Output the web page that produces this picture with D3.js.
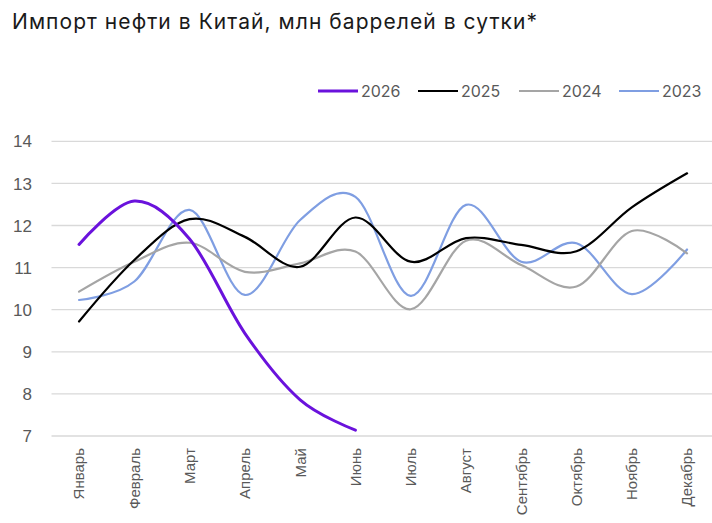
<!DOCTYPE html>
<html>
<head>
<meta charset="utf-8">
<script src="https://cdn.jsdelivr.net/npm/d3@7"></script>
<style>
  body { margin: 0; background: #fff; }
  svg { display: block; }
</style>
</head>
<body>
<div id="chart"></div>
<script>
// months on the x axis
var months = ["Январь", "Февраль", "Март", "Апрель", "Май", "Июнь",
              "Июль", "Август", "Сентябрь", "Октябрь", "Ноябрь", "Декабрь"];
var yTicks = [7, 8, 9, 10, 11, 12, 13, 14];

// values, mln barrels per day
var y2026 = [11.55, 12.58, 11.68, 9.44, 7.86, 7.14];
var y2025 = [9.72, 11.18, 12.15, 11.73, 11.02, 12.19, 11.14, 11.70, 11.54, 11.39, 12.43, 13.24];
var y2024 = [10.43, 11.14, 11.59, 10.90, 11.10, 11.38, 10.01, 11.64, 11.06, 10.55, 11.87, 11.34];
var y2023 = [10.23, 10.67, 12.37, 10.35, 12.13, 12.68, 10.33, 12.49, 11.14, 11.58, 10.37, 11.43];

var seriesNames = ["2026", "2025", "2024", "2023"];
var seriesValues = [y2026, y2025, y2024, y2023];
var seriesColors = ["#6a12dc", "#000000", "#a5a5a5", "#7f9ee2"];
var seriesWidths = [3, 2.2, 2.2, 2.2];

var width = 712, height = 523;

var svg = d3.select("#chart")
    .append("svg")
    .attr("width", width)
    .attr("height", height);

// title
svg.append("text")
    .attr("x", 12)
    .attr("y", 29)
    .attr("textLength", 525)
    .attr("lengthAdjust", "spacing")
    .style("font-family", "Inter, 'Noto Sans', sans-serif")
    .style("font-size", "21px")
    .style("fill", "#1a1a1a")
    .text("Импорт нефти в Китай, млн баррелей в сутки*");

var x = d3.scalePoint()
    .domain(months)
    .range([51.4, 714.7])
    .padding(0.5);

var y = d3.scaleLinear()
    .domain([7, 14])
    .range([436, 141.3]);

// gridlines
svg.append("g")
    .selectAll("line")
    .data(yTicks)
    .enter()
    .append("line")
    .attr("x1", 51.5)
    .attr("x2", 712)
    .attr("y1", function(d) { return y(d); })
    .attr("y2", function(d) { return y(d); })
    .style("stroke", "#d9d9d9")
    .style("stroke-width", 1.3);

// y axis labels
svg.append("g")
    .selectAll("text")
    .data(yTicks)
    .enter()
    .append("text")
    .attr("x", 32)
    .attr("y", function(d) { return y(d); })
    .attr("dy", "0.36em")
    .style("text-anchor", "end")
    .style("font-family", "'Liberation Sans', Arial, sans-serif")
    .style("font-size", "17px")
    .style("fill", "#595959")
    .text(function(d) { return d; });

// x axis labels, rotated
svg.append("g")
    .selectAll("text")
    .data(months)
    .enter()
    .append("text")
    .attr("transform", function(d) { return "translate(" + x(d) + ",448) rotate(-90)"; })
    .attr("dy", "0.36em")
    .style("text-anchor", "end")
    .style("font-family", "'Liberation Sans', Arial, sans-serif")
    .style("font-size", "15px")
    .style("fill", "#595959")
    .text(function(d) { return d; });

var line = d3.line()
    .x(function(d, i) { return x(months[i]); })
    .y(function(d) { return y(d); })
    .curve(d3.curveCardinal.tension(0));

// draw older years first so 2026 ends up on top
for (var i = seriesNames.length - 1; i >= 0; i--) {
    svg.append("path")
        .datum(seriesValues[i])
        .attr("d", line)
        .style("fill", "none")
        .style("stroke", seriesColors[i])
        .style("stroke-width", seriesWidths[i])
        .style("stroke-linecap", "round");
}

// legend
var legendX = [318, 418, 519, 619];
var legend = svg.append("g");
seriesNames.forEach(function(name, i) {
    legend.append("line")
        .attr("x1", legendX[i])
        .attr("x2", legendX[i] + 40)
        .attr("y1", 91)
        .attr("y2", 91)
        .style("stroke", seriesColors[i])
        .style("stroke-width", seriesWidths[i]);
    legend.append("text")
        .attr("x", legendX[i] + 43)
        .attr("y", 91)
        .attr("dy", "0.36em")
        .style("font-family", "Inter, 'Noto Sans', sans-serif")
        .style("font-size", "16px")
        .style("fill", "#595959")
        .text(name);
});
</script>
</body>
</html>
